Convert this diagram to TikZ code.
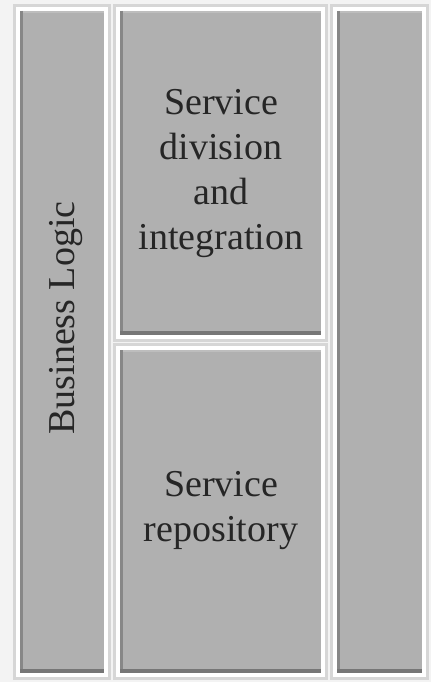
\documentclass[tikz,border=0pt]{standalone}
\usepackage{fontspec}
\setmainfont{Liberation Serif}
\definecolor{panelfill}{HTML}{B0B0B0}
\definecolor{panelhalo}{HTML}{D6D6D6}
\definecolor{edgedark}{HTML}{878787}
\definecolor{edgedeep}{HTML}{767676}
\definecolor{edgelight}{HTML}{BDBDBD}
\definecolor{paper}{HTML}{F3F3F3}
\definecolor{ink}{HTML}{262626}
\tikzset{
  panel/.style={rectangle, inner sep=0pt, outer sep=0pt, fill=panelfill,
    draw=white, line width=4pt,
    preaction={draw=panelhalo, line width=10pt}},
  label/.style={text=ink, align=center,
    font=\fontsize{38}{45}\selectfont},
  shadeleft/.style={draw=edgedark, line width=3pt},
  shadebottom/.style={draw=edgedeep, line width=4pt},
  shadetop/.style={draw=edgelight, line width=2pt},
}
\newcommand{\bevelpanel}[1]{%
  \draw[shadetop] ([xshift=3pt,yshift=-3pt]#1.north west) -- ([xshift=-2pt,yshift=-3pt]#1.north east);
  \draw[shadeleft] ([xshift=3.5pt,yshift=-2pt]#1.north west) -- ([xshift=3.5pt,yshift=2pt]#1.south west);
  \draw[shadebottom] ([xshift=2pt,yshift=4pt]#1.south west) -- ([xshift=-2pt,yshift=4pt]#1.south east);
}
\begin{document}
\begin{tikzpicture}[x=1pt,y=-1pt]
  \fill[paper] (0,0) rectangle (431,682);
  \useasboundingbox (0,0) rectangle (431,682);

  % four panels
  \node[panel, minimum width=88pt, minimum height=666pt] (logic) at (62,342) {};
  \node[panel, minimum width=205pt, minimum height=328pt] (division) at (220.5,173) {};
  \node[panel, minimum width=205pt, minimum height=327pt] (repo) at (220.5,511.5) {};
  \node[panel, minimum width=89pt, minimum height=666pt] (side) at (379.5,342) {};

  \bevelpanel{logic}
  \bevelpanel{division}
  \bevelpanel{repo}
  \bevelpanel{side}

  % labels
  \node[label, rotate=90] (logictext) at (66,318) {Business Logic};
  \node[label] (divisiontext) at (221,174) {Service\\division\\and\\integration};
  \node[label] (repotext) at (221,511) {Service\\repository};
\end{tikzpicture}
\end{document}
